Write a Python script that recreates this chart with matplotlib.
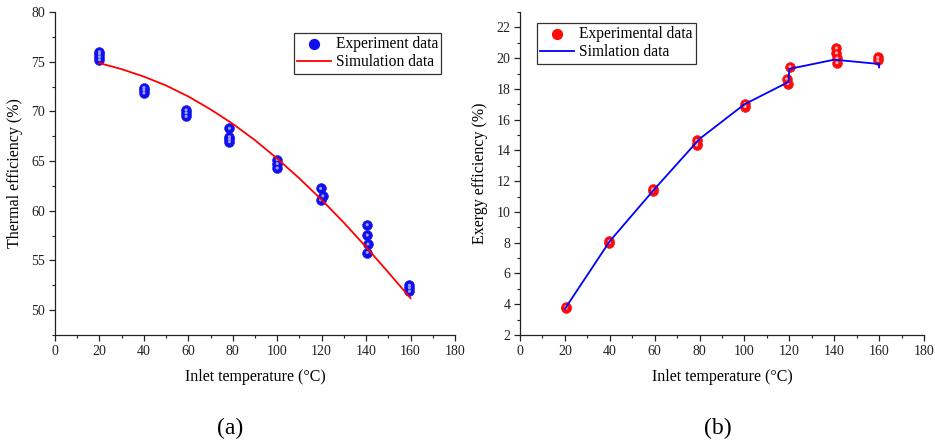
import matplotlib
matplotlib.use("Agg")
import matplotlib.pyplot as plt
from matplotlib.ticker import MultipleLocator

plt.rcParams['font.family'] = ['Liberation Serif', 'DejaVu Serif']
plt.rcParams['mathtext.fontset'] = 'stix'

# ---- (a) Thermal efficiency ----
exp_a_T = [20, 20, 20, 20,
           40, 40, 40,
           59, 59, 59,
           78.5, 78.5, 78.5, 78.5,
           100, 100, 100,
           119.5, 120.5, 119.5,
           140.5, 140.5, 140.8, 140.5,
           159.5, 159.5, 159.5]
exp_a_val = [76.0, 75.8, 75.5, 75.2,
             72.4, 72.15, 71.85,
             70.15, 69.85, 69.5,
             68.3, 67.45, 67.2, 66.95,
             65.15, 64.75, 64.3,
             62.25, 61.5, 61.1,
             58.6, 57.55, 56.65, 55.8,
             52.5, 52.25, 51.9]
sim_a_T = [20, 30, 40, 50, 60, 70, 80, 90, 100, 110, 120, 130, 140, 150, 160]
sim_a_val = [74.86, 74.25, 73.5, 72.6, 71.5, 70.2, 68.75, 67.1, 65.25,
             63.25, 61.1, 58.8, 56.35, 53.8, 51.2]

# ---- (b) Exergy efficiency ----
exp_b_T = [20.5, 20.5,
           39.8, 39.8,
           59.1, 59.1,
           78.7, 78.7, 78.7,
           100.3, 100.3,
           118.8, 119.3, 120.3,
           141, 141, 141.2, 141.2,
           159.4, 159.4]
exp_b_val = [3.75, 3.85,
             8.0, 8.1,
             11.35, 11.5,
             14.65, 14.45, 14.35,
             17.05, 16.85,
             18.65, 18.35, 19.45,
             20.66, 20.34, 20.0, 19.7,
             20.05, 19.85]
sim_b_T = [20, 40, 60, 80, 100, 119.6, 120, 140, 160, 160]
sim_b_val = [3.7, 8.1, 11.5, 14.75, 17.0, 18.45, 19.3, 19.9, 19.62, 19.4]

fig = plt.figure(figsize=(9.35, 4.45), dpi=100)
ax1 = fig.add_axes([55/935, 1-335/445, 400/935, 323/445])
ax2 = fig.add_axes([520/935, 1-335/445, 404/935, 323/445])

tick_fs = 10
lab_fs = 11.5
leg_fs = 11.2
msize = 50


def style(ax):
    for s in ['top', 'right']:
        ax.spines[s].set_visible(False)
    for s in ['left', 'bottom']:
        ax.spines[s].set_linewidth(0.9)
        ax.spines[s].set_color('#222222')
    ax.tick_params(which='major', direction='out', length=4, width=0.9,
                   labelsize=tick_fs, colors='#222222', pad=3)
    ax.tick_params(which='minor', direction='out', length=2.5, width=0.8,
                   colors='#222222')
    ax.set_xlim(0, 180)
    ax.xaxis.set_major_locator(MultipleLocator(20))
    ax.xaxis.set_minor_locator(MultipleLocator(10))
    ax.set_xlabel('Inlet temperature (\u00b0C)', fontsize=lab_fs, labelpad=8)


def balls(ax, x, y, color, hl):
    ax.scatter(x, y, s=msize, color=color, edgecolors=color, linewidths=0.4, zorder=3)
    ax.scatter(x, y, s=5, color=hl, edgecolors='none', zorder=4)


def make_legend(ax, handles, labels, loc, anchor):
    leg = ax.legend(handles, labels, loc=loc, bbox_to_anchor=anchor,
                    fontsize=leg_fs, frameon=True, fancybox=False,
                    edgecolor='#333333', framealpha=1, borderpad=0.2,
                    handlelength=2.2, handletextpad=0.3, labelspacing=0.15,
                    borderaxespad=0.0, scatterpoints=1)
    leg.get_frame().set_linewidth(0.9)
    return leg


style(ax1)
ax1.set_ylim(47.5, 80)
ax1.yaxis.set_major_locator(MultipleLocator(5))
ax1.yaxis.set_minor_locator(MultipleLocator(2.5))
ax1.set_ylabel('Thermal efficiency (%)', fontsize=lab_fs, labelpad=6)
balls(ax1, exp_a_T, exp_a_val, '#1010ee', '#9aa0ff')
ax1.plot(sim_a_T, sim_a_val, color='#ff0000', lw=1.3, zorder=5)
h1 = ax1.scatter([], [], s=msize, color='#1010ee')
l1, = ax1.plot([], [], color='#ff0000', lw=1.3)
make_legend(ax1, [h1, l1], ['Experiment data', 'Simulation data'],
            'upper right', ((441-55)/400, (335-33)/323))

style(ax2)
ax2.set_ylim(2, 23)
ax2.yaxis.set_major_locator(MultipleLocator(2))
ax2.yaxis.set_minor_locator(MultipleLocator(1))
ax2.set_ylabel('Exergy efficiency (%)', fontsize=lab_fs, labelpad=6)
balls(ax2, exp_b_T, exp_b_val, '#ff0a0a', '#ffb0b0')
ax2.plot(sim_b_T, sim_b_val, color='#0000ff', lw=1.3, zorder=5)
h2 = ax2.scatter([], [], s=msize, color='#ff0a0a')
l2, = ax2.plot([], [], color='#0000ff', lw=1.3)
make_legend(ax2, [h2, l2], ['Experimental data', 'Simlation data'],
            'upper left', ((537-520)/404, (335-23)/323))

fig.text(230/935, 1-428/445, '(a)', fontsize=17, ha='center', va='center')
fig.text(718/935, 1-428/445, '(b)', fontsize=17, ha='center', va='center')

fig.savefig('out.png', dpi=100)
